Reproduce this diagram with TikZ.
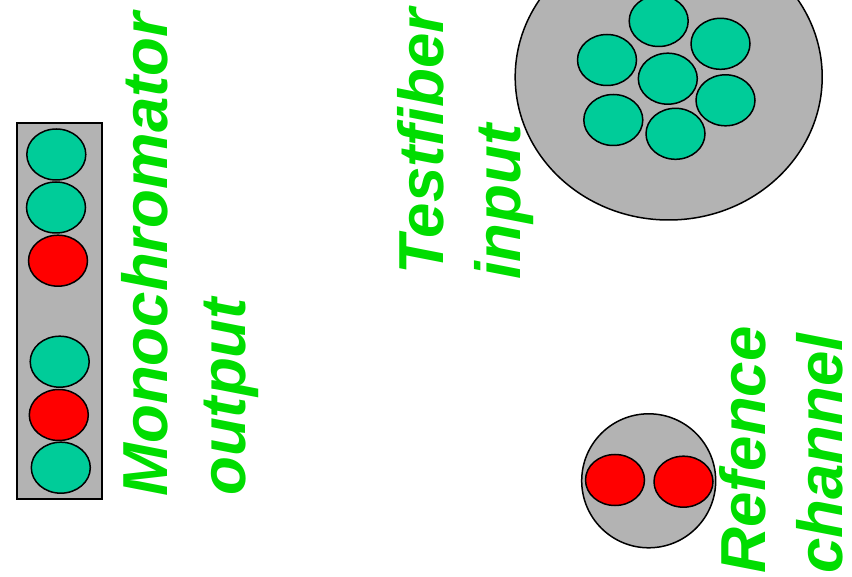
\documentclass[tikz,border=0pt]{standalone}
\usepackage{fontspec}
\setmainfont{Liberation Sans}
\usetikzlibrary{shapes.geometric}
\definecolor{labelgreen}{RGB}{0,221,0}
\definecolor{coregreen}{RGB}{0,204,153}
\definecolor{coregray}{RGB}{179,179,179}
\definecolor{corered}{RGB}{255,0,0}
\tikzset{
  holder/.style={draw=black, line width=1.5pt, fill=coregray},
  fibre/.style={ellipse, draw=black, line width=1.5pt, inner sep=0pt,
                minimum width=59pt, minimum height=51pt},
  testcore/.style={fibre, fill=coregreen},
  refcore/.style={fibre, fill=corered},
  caption/.style={rotate=90, anchor=base west, inner sep=0pt, text=labelgreen,
                  font=\fontsize{63.6}{63.6}\selectfont\bfseries\itshape}
}
\begin{document}
\begin{tikzpicture}[x=1pt, y=-1pt]
  \useasboundingbox (0,0) rectangle (852,577);

  % monochromator exit slit with its row of fibres
  \node[holder, rectangle, inner sep=0pt, minimum width=85pt, minimum height=376pt]
    (slit) at (59.5,311) {};
  \node[testcore] (m1) at (56.3,154.5) {};
  \node[testcore] (m2) at (56,207.5) {};
  \node[refcore]  (m3) at (58,260.7) {};
  \node[testcore] (m4) at (59.7,361.7) {};
  \node[refcore]  (m5) at (58.8,415) {};
  \node[testcore] (m6) at (60.8,467.7) {};

  % test fibre bundle (hexagonal packing)
  \node[holder, ellipse, inner sep=0pt, minimum width=307pt, minimum height=286pt]
    (bundle) at (668.7,77) {};
  \node[testcore] (t1) at (658.7,21) {};
  \node[testcore] (t2) at (720.5,43.8) {};
  \node[testcore] (t3) at (607,60) {};
  \node[testcore] (t4) at (667.8,78.7) {};
  \node[testcore] (t5) at (725.5,100.3) {};
  \node[testcore] (t6) at (613.3,120) {};
  \node[testcore] (t7) at (675.5,133.8) {};

  % reference channel bundle
  \node[holder, circle, inner sep=0pt, minimum size=134pt]
    (refbundle) at (648.7,480.8) {};
  \node[refcore] (r1) at (615,480) {};
  \node[refcore] (r2) at (683.5,481.7) {};

  % labels
  \node[caption] (lblmono) at (167,497) {Monochromator};
  \node[caption] (lblout)  at (245,496) {output};
  \node[caption] (lbltest) at (443,275) {Testfiber};
  \node[caption] (lblin)   at (520,280) {input};
  \node[caption] (lblref)  at (765,574) {Refence};
  \node[caption] (lblch)   at (842,574) {channel};
\end{tikzpicture}
\end{document}
